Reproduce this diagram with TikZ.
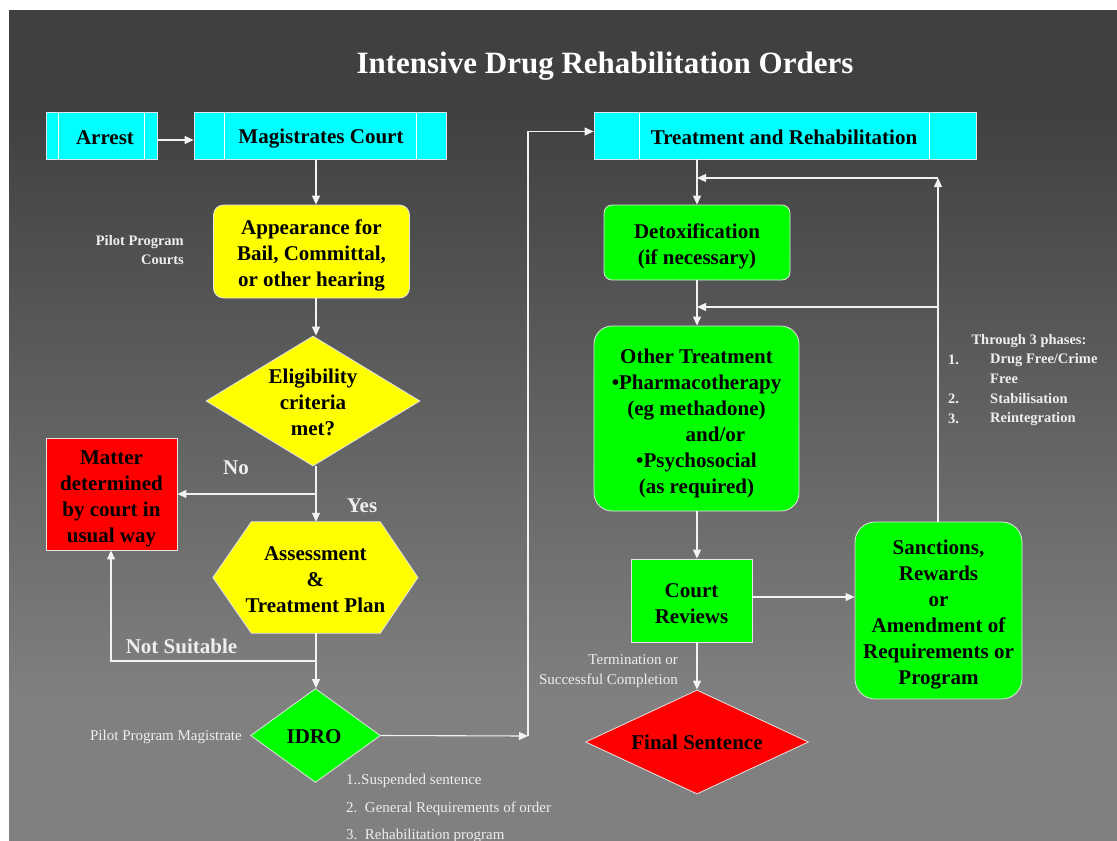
\documentclass[tikz,border=0pt]{standalone}
\usepackage{fontspec}
\setmainfont{Liberation Serif}
\usetikzlibrary{shapes.geometric,arrows.meta,calc}
\definecolor{bgtop}{HTML}{404040}
\definecolor{bgbot}{HTML}{808080}
\definecolor{cyanbox}{HTML}{00FFFF}
\definecolor{yel}{HTML}{FFFF00}
\definecolor{redbox}{HTML}{FF0000}
\definecolor{grn}{HTML}{00FF00}
\definecolor{edge}{HTML}{E4E4E4}
\definecolor{lbl}{HTML}{EEEEEE}
\definecolor{wire}{HTML}{F2F2F2}
\pgfdeclareverticalshading{bgshade}{100bp}{color(0bp)=(bgbot); color(33.5bp)=(bgbot); color(69bp)=(bgtop); color(100bp)=(bgtop)}
\newcommand\boxfont{\bfseries\fontsize{21}{26}\selectfont}
\newcommand\smallbold{\bfseries\fontsize{14.5}{19}\selectfont}
\newcommand\smallreg{\fontsize{15}{20}\selectfont}
\tikzset{
  hdr/.style={draw=edge, line width=0.8pt, fill=cyanbox, inner sep=0pt, minimum height=47pt},
  innerline/.style={draw=white, line width=0.8pt},
  rbox/.style={draw=edge, line width=0.8pt, inner sep=0pt},
  dshape/.style={diamond, draw=edge, line width=0.8pt, inner sep=0pt},
  txt/.style={font=\boxfont, align=center, inner sep=0pt},
  arr/.style={draw=wire, line width=1.1pt, -{Triangle[length=9pt,width=8pt]}},
  lblb/.style={font=\boxfont, text=lbl, inner sep=0pt},
  lbls/.style={font=\smallbold, text=lbl, inner sep=0pt},
  lblr/.style={font=\smallreg, text=lbl, inner sep=0pt},
}
\begin{document}
\begin{tikzpicture}[x=1pt,y=-1pt]
\useasboundingbox (0,0) rectangle (1117,841);
\fill[white] (0,0) rectangle (1117,841);
\shade[shading=bgshade] (9,10) rectangle (1117,841);

% title
\node[font=\bfseries\fontsize{31}{36}\selectfont, text=white] (title) at (605,66) {Intensive Drug Rehabilitation Orders};

% header boxes
\node[hdr, minimum width=111pt] (arrest) at (101.5,135.5) {};
\draw[innerline] ([xshift=13pt]arrest.north west) -- ([xshift=13pt]arrest.south west);
\draw[innerline] ([xshift=-13pt]arrest.north east) -- ([xshift=-13pt]arrest.south east);
\node[txt] (arresttxt) at (105,138) {Arrest};

\node[hdr, minimum width=252pt] (mc) at (320,135.5) {};
\draw[innerline] ([xshift=31pt]mc.north west) -- ([xshift=31pt]mc.south west);
\draw[innerline] ([xshift=-30pt]mc.north east) -- ([xshift=-30pt]mc.south east);
\node[txt] (mctxt) at (321,138.5) {Magistrates Court};

\node[hdr, minimum width=382pt] (tr) at (785,135.5) {};
\draw[innerline] ([xshift=46pt]tr.north west) -- ([xshift=46pt]tr.south west);
\draw[innerline] ([xshift=-47pt]tr.north east) -- ([xshift=-47pt]tr.south east);
\node[txt] (trtxt) at (784,137.5) {Treatment and Rehabilitation};

% left column
\node[rbox, fill=yel, rounded corners=10pt, minimum width=196pt, minimum height=93pt] (app) at (311.5,251.5) {};
\node[txt] (apptxt) at (311.5,255.5) {Appearance for\\Bail, Committal,\\or other hearing};

\node[dshape, fill=yel, minimum width=214pt, minimum height=130pt] (elig) at (313,401) {};
\node[txt] (eligtxt) at (313,402) {Eligibility\\criteria\\met?};

\node[rbox, fill=redbox, minimum width=131pt, minimum height=112pt] (matter) at (111.5,494) {};
\node[txt] (mattertxt) at (111.5,499) {Matter\\determined\\by court in\\usual way};

\node[minimum width=204.7pt, minimum height=111pt, inner sep=0pt] (hex) at (315.4,577.5) {};
\filldraw[fill=yel, draw=edge, line width=0.8pt] (hex.west) -- ([xshift=38.5pt]hex.north west) -- ([xshift=-37.7pt]hex.north east) -- (hex.east) -- ([xshift=-37.7pt]hex.south east) -- ([xshift=38.5pt]hex.south west) -- cycle;
\node[txt] (hextxt) at (315.4,580) {Assessment\\\&\\Treatment Plan};

\node[dshape, fill=grn, minimum width=130pt, minimum height=94pt] (idro) at (315.5,735.5) {};
\node[txt] (idrotxt) at (314,737) {IDRO};

% right column
\node[rbox, fill=grn, rounded corners=8pt, minimum width=186pt, minimum height=75pt] (detox) at (697,242.5) {};
\node[txt] (detoxtxt) at (697,246.5) {Detoxification\\(if necessary)};

\node[rbox, fill=grn, rounded corners=18pt, minimum width=205pt, minimum height=185pt] (other) at (696.5,418.5) {};
\node[txt] (othertxt) at (696.5,423.5) {Other Treatment\\\textbullet Pharmacotherapy\\(eg methadone)\\\hspace*{38pt}and/or\\\textbullet Psychosocial\\(as required)};

\node[rbox, fill=grn, minimum width=121pt, minimum height=83pt] (cr) at (691.5,600.5) {};
\node[txt] (crtxt) at (691.5,603.5) {Court\\Reviews};

\node[rbox, fill=grn, rounded corners=20pt, minimum width=167pt, minimum height=177pt] (sanc) at (938.5,610.5) {};
\node[txt] (sanctxt) at (938.5,614.5) {Sanctions,\\Rewards\\or\\Amendment of\\Requirements or\\Program};

\node[dshape, fill=redbox, minimum width=223pt, minimum height=104pt] (fs) at (697,742) {};
\node[txt] (fstxt) at (697,742) {Final Sentence};

% labels
\node[lbls, align=right, anchor=east] (ppc) at (184,250) {Pilot Program\\Courts};
\node[lblb] (no) at (236,468) {No};
\node[lblb] (yes) at (362,506) {Yes};
\node[lblb] (ns) at (181.5,646) {Not Suitable};
\node[lblr, anchor=east] (ppm) at (242,736.5) {Pilot Program Magistrate};
\node[lblr, anchor=west] (n1) at (346,780.5) {1..Suspended sentence};
\node[lblr, anchor=west] (n2) at (346,808.5) {2.\ \ General Requirements of order};
\node[lblr, anchor=west] (n3) at (346,835.5) {3.\ \ Rehabilitation program};
\node[lblr, align=right, anchor=east] (term) at (678,671) {Termination or\\Successful Completion};
\node[lbls] (ph) at (1029,341) {Through 3 phases:};
\node[lbls, anchor=west] (ph1n) at (948,360) {1.};
\node[lbls, anchor=west] (ph1) at (990,360) {Drug Free/Crime};
\node[lbls, anchor=west] (ph1b) at (990,379) {Free};
\node[lbls, anchor=west] (ph2n) at (948,399) {2.};
\node[lbls, anchor=west] (ph2) at (990,399) {Stabilisation};
\node[lbls, anchor=west] (ph3n) at (948,419) {3.};
\node[lbls, anchor=west] (ph3) at (990,419) {Reintegration};

% coordinates
\coordinate (colL) at (316,0);
\coordinate (noBr) at (316,494);
\coordinate (nsBr) at (316,661);
\coordinate (nsCorner) at (111,661);
\coordinate (idroEnd) at (528,736);
\coordinate (idroTop) at (528,131.5);
\coordinate (retTop) at (938,178);
\coordinate (retTopEnd) at (697,178);
\coordinate (retMid) at (938,307);
\coordinate (retMidEnd) at (697,307);

% connectors
\draw[arr] ([yshift=-4.5pt]arrest.east) -- ([yshift=-4.5pt]mc.west);
\draw[arr] (mc.south -| colL) -- (app.north -| colL);
\draw[arr] (app.south -| colL) -- (elig.north -| colL);
\draw[arr] (elig.south -| colL) -- (hex.north -| colL);
\draw[arr] (noBr) -- (noBr -| matter.east);
\draw[arr] (hex.south -| colL) -- (idro.north -| colL);
\draw[arr] (nsBr) -- (nsCorner) -- (matter.south -| nsCorner);
\draw[arr] (idro.east) -- (idroEnd);
\draw[arr] (idroEnd) -- (idroTop) -- (idroTop -| tr.west);

\draw[arr] (tr.south -| detox.north) -- (detox.north);
\draw[arr] (detox.south) -- (detox.south |- other.north);
\draw[arr] (other.south -| detox.south) -- (cr.north -| detox.south);
\draw[arr] (cr.east |- 0,597) -- (sanc.west |- 0,597);
\draw[arr] (cr.south -| detox.south) -- (fs.north);
\draw[arr] (sanc.north -| retTop) -- (retTop);
\draw[arr] (retTop) -- (retTopEnd);
\draw[arr] (retMid) -- (retMidEnd);
\end{tikzpicture}
\end{document}
